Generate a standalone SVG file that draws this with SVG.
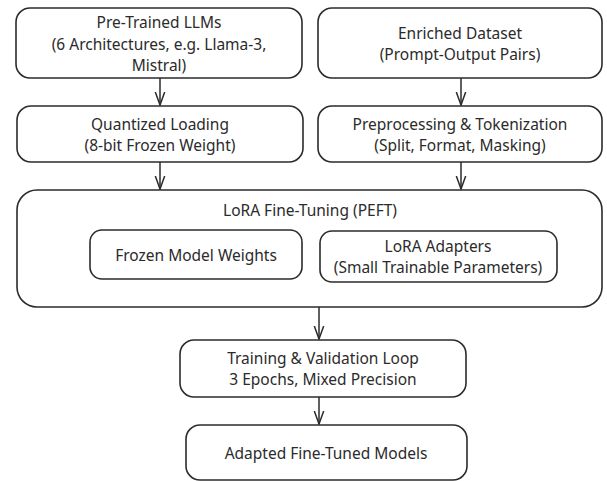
<svg xmlns="http://www.w3.org/2000/svg" width="607" height="481" viewBox="0 0 607 481">
<defs>
<marker id="ah" viewBox="0 0 14 12" refX="13" refY="6" markerWidth="14" markerHeight="12" markerUnits="userSpaceOnUse" orient="auto">
<path d="M0,1.3 L13,6 L0,10.7" fill="none" stroke="#2b2b2b" stroke-width="1.5"/>
</marker>
</defs>
<style>
.b{fill:#fff;stroke:#2b2b2b;stroke-width:1.6}
.t{font-family:"Noto Sans","Open Sans",sans-serif;font-size:15.5px;fill:#2b2b2b;text-anchor:middle}
.c{stroke:#2b2b2b;stroke-width:1.5;fill:none}
</style>
<rect width="607" height="481" fill="#fff"/>
<g id="n1"><rect class="b" x="16" y="8" width="286" height="70" rx="14"/>
<text class="t" x="159" y="28">Pre-Trained LLMs</text>
<text class="t" x="159" y="50">(6 Architectures, e.g. Llama-3,</text>
<text class="t" x="159" y="71">Mistral)</text></g>
<g id="n2"><rect class="b" x="318" y="8" width="284" height="70" rx="14"/>
<text class="t" x="460" y="39">Enriched Dataset</text>
<text class="t" x="460" y="60">(Prompt-Output Pairs)</text></g>
<g id="n3"><rect class="b" x="17" y="106" width="286" height="56" rx="14"/>
<text class="t" x="160" y="130">Quantized Loading</text>
<text class="t" x="160" y="151">(8-bit Frozen Weight)</text></g>
<g id="n4"><rect class="b" x="318" y="106" width="284" height="56" rx="14"/>
<text class="t" x="460" y="130">Preprocessing &amp; Tokenization</text>
<text class="t" x="460" y="151">(Split, Format, Masking)</text></g>
<g id="n5"><rect class="b" x="17" y="190" width="585" height="117" rx="20"/>
<text class="t" x="310" y="216">LoRA Fine-Tuning (PEFT)</text></g>
<g id="n6"><rect class="b" x="90" y="230" width="212" height="49" rx="12"/>
<text class="t" x="196" y="261">Frozen Model Weights</text></g>
<g id="n7"><rect class="b" x="320" y="231" width="237" height="51" rx="12"/>
<text class="t" x="438" y="252">LoRA Adapters</text>
<text class="t" x="438" y="273">(Small Trainable Parameters)</text></g>
<g id="n8"><rect class="b" x="180" y="340" width="286" height="57" rx="14"/>
<text class="t" x="323" y="364">Training &amp; Validation Loop</text>
<text class="t" x="323" y="385">3 Epochs, Mixed Precision</text></g>
<g id="n9"><rect class="b" x="186" y="425" width="281" height="55" rx="14"/>
<text class="t" x="326" y="459">Adapted Fine-Tuned Models</text></g>
<g id="connectors">
<line class="c" x1="160" y1="78" x2="160" y2="105" marker-end="url(#ah)"/>
<line class="c" x1="461" y1="78" x2="461" y2="105" marker-end="url(#ah)"/>
<line class="c" x1="160" y1="162" x2="160" y2="189" marker-end="url(#ah)"/>
<line class="c" x1="461" y1="162" x2="461" y2="189" marker-end="url(#ah)"/>
<line class="c" x1="319" y1="307" x2="319" y2="339" marker-end="url(#ah)"/>
<line class="c" x1="319" y1="397" x2="319" y2="424" marker-end="url(#ah)"/>
</g>
</svg>
